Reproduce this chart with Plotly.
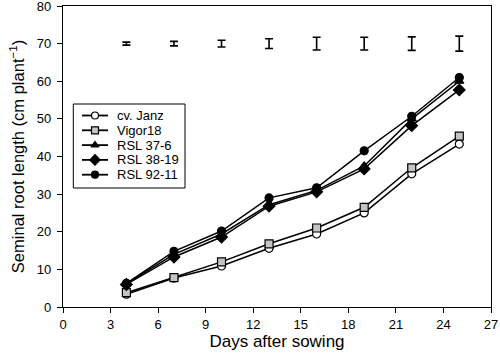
import plotly.graph_objects as go

days = [4, 7, 10, 13, 16, 19, 22, 25]
janz = [3.4, 7.7, 10.9, 15.6, 19.4, 25.0, 35.4, 43.3]
vigor18 = [3.8, 7.8, 12.0, 16.8, 21.0, 26.5, 37.0, 45.4]
rsl_37_6 = [6.2, 14.0, 19.4, 27.2, 31.0, 37.5, 50.0, 60.0]
rsl_38_19 = [6.0, 13.3, 18.6, 26.8, 30.6, 36.7, 48.2, 57.7]
rsl_92_11 = [6.3, 14.8, 20.2, 29.0, 31.7, 41.5, 50.7, 61.0]
lsd_level = [70] * 8
lsd_half = [0.4, 0.6, 0.9, 1.3, 1.7, 1.7, 1.8, 2.0]

series = [
    ("cv. Janz", janz, "circle", "white"),
    ("Vigor18", vigor18, "square", "#c4c4c4"),
    ("RSL 37-6", rsl_37_6, "triangle-up", "black"),
    ("RSL 38-19", rsl_38_19, "diamond", "black"),
    ("RSL 92-11", rsl_92_11, "circle", "black"),
]

font = "Liberation Sans, Arial, sans-serif"
fig = go.Figure()

# custom legend geometry (pixels inside plot area, overlay axis)
PW, PH = 428, 301
leg_x0, leg_x1, leg_y0, leg_y1 = 10.3, 122, 98, 182
row0, row_step = 109.5, 14.8
key_x0, key_x1, key_xm, text_x = 19, 45, 32, 52

for i, (name, vals, sym, fill) in enumerate(series):
    psize = 8 if sym != "diamond" else 9
    lsize = 7 if sym != "diamond" else 8
    mline = dict(color="black", width=1.2)
    fig.add_trace(go.Scatter(
        x=days, y=vals, name=name, mode="lines+markers", showlegend=False,
        line=dict(color="black", width=1.5),
        marker=dict(symbol=sym, size=psize, color=fill, line=mline),
    ))
    ry = row0 + i * row_step
    fig.add_trace(go.Scatter(
        x=[key_x0, key_x1], y=[ry, ry], mode="lines", xaxis="x2", yaxis="y2",
        showlegend=False, hoverinfo="skip", line=dict(color="black", width=1.8),
    ))
    fig.add_trace(go.Scatter(
        x=[key_xm], y=[ry], mode="markers", xaxis="x2", yaxis="y2",
        showlegend=False, hoverinfo="skip",
        marker=dict(symbol=sym, size=lsize, color=fill, line=mline),
    ))
    fig.add_annotation(x=text_x, y=ry, xref="x2", yref="y2", text=name,
                       showarrow=False, xanchor="left", yanchor="middle",
                       font=dict(family=font, size=13, color="black"))

fig.add_shape(type="rect", xref="x2", yref="y2", x0=leg_x0, x1=leg_x1,
              y0=leg_y0, y1=leg_y1, line=dict(color="black", width=1),
              fillcolor="white", layer="below")

fig.add_trace(go.Scatter(
    x=days, y=lsd_level, mode="markers", showlegend=False,
    marker=dict(size=1, color="rgba(0,0,0,0)"),
    error_y=dict(type="data", array=lsd_half, visible=True,
                 color="black", thickness=1.6, width=4),
))

fig.update_layout(
    width=500, height=358,
    margin=dict(l=63, r=9, t=6, b=51),
    paper_bgcolor="white", plot_bgcolor="white",
    font=dict(family=font, size=13, color="black"),
    showlegend=False,
    xaxis=dict(range=[0, 27], tickvals=list(range(0, 28, 3)), automargin=False,
               showgrid=False, zeroline=False, showline=True, mirror=True,
               linecolor="black", linewidth=1.2, ticks="outside", ticklen=5,
               tickcolor="black", tickfont=dict(size=13), ticklabeloverflow="allow",
               title=dict(text="Days after sowing", font=dict(size=17), standoff=4)),
    yaxis=dict(range=[0, 80], tickvals=list(range(0, 81, 10)), automargin=False,
               showgrid=False, zeroline=False, showline=True, mirror=True,
               linecolor="black", linewidth=1.2, ticks="outside", ticklen=5,
               tickcolor="black", tickfont=dict(size=13), ticklabeloverflow="allow",
               ticklabelstandoff=3,
               title=dict(text="Seminal root length (cm plant<sup>−1</sup>)",
                          font=dict(size=16.5), standoff=8)),
    xaxis2=dict(overlaying="x", range=[0, PW], visible=False, fixedrange=True),
    yaxis2=dict(overlaying="y", range=[PH, 0], visible=False, fixedrange=True),
)

fig.write_html("out.html", config={"displayModeBar": False},
               post_script="document.body.style.margin='0';document.body.style.padding='0';")
